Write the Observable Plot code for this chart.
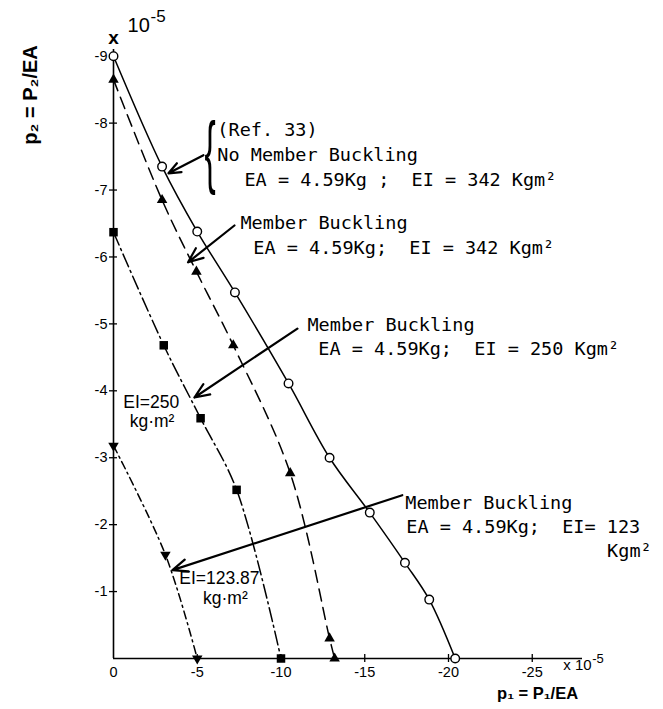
<!DOCTYPE html>
<html><head><meta charset="utf-8">
<script src="https://cdn.jsdelivr.net/npm/d3@7"></script>
<script src="https://cdn.jsdelivr.net/npm/@observablehq/plot@0.6"></script>
<style>body{margin:0;background:#fff}</style>
</head><body><div id="chart"></div>
<script>
// Data (values in units of 1e-5)
const noBucklingP1 = [0, -2.9, -5.0, -7.25, -10.45, -12.9, -15.3, -17.4, -18.85, -20.4];
const noBucklingP2 = [-9.0, -7.35, -6.38, -5.47, -4.11, -3.0, -2.18, -1.43, -0.88, 0];
const ei342P1 = [0, -2.9, -4.95, -7.15, -10.55, -12.9, -13.2];
const ei342P2 = [-8.65, -6.85, -5.78, -4.68, -2.77, -0.3, 0];
const ei250P1 = [0, -3.0, -5.2, -7.35, -10];
const ei250P2 = [-6.37, -4.68, -3.59, -2.52, 0];
const ei123P1 = [0, -3.1, -5.0];
const ei123P2 = [-3.18, -1.55, 0];
const xTicks = [0, -5, -10, -15, -20, -25];
const yTicks = [-9, -8, -7, -6, -5, -4, -3, -2, -1];

// Annotations (data coordinates)
const legendTexts = [
  {x: -6.2, y: -7.89, text: "(Ref. 33)"},
  {x: -6.2, y: -7.52, text: "No Member Buckling"},
  {x: -7.82, y: -7.15, text: "EA = 4.59Kg ;  EI = 342 Kgm²"},
  {x: -7.58, y: -6.50, text: "Member Buckling"},
  {x: -8.35, y: -6.14, text: "EA = 4.59Kg;  EI = 342 Kgm²"},
  {x: -11.58, y: -4.98, text: "Member Buckling"},
  {x: -12.23, y: -4.62, text: "EA = 4.59Kg;  EI = 250 Kgm²"},
  {x: -17.42, y: -2.32, text: "Member Buckling"},
  {x: -17.48, y: -1.96, text: "EA = 4.59Kg;  EI= 123"},
  {x: -29.47, y: -1.61, text: "Kgm²"}
];
const curveTexts = [
  {x: -2.25, y: -3.83, text: "EI=250"},
  {x: -2.3, y: -3.55, text: "kg·m²"},
  {x: -6.32, y: -1.2, text: "EI=123.87"},
  {x: -6.68, y: -0.9, text: "kg·m²"}
];
const arrows = [
  {x1: -5.37, y1: -7.52, x2: -3.28, y2: -7.25},
  {x1: -7.22, y1: -6.47, x2: -4.45, y2: -5.92},
  {x1: -10.98, y1: -4.93, x2: -4.83, y2: -3.90},
  {x1: -17.24, y1: -2.44, x2: -3.52, y2: -1.32}
];

const zipPts = (xs, ys) => xs.map((x, i) => ({x, y: ys[i]}));
const noBuckling = zipPts(noBucklingP1, noBucklingP2);
const ei342 = zipPts(ei342P1, ei342P2);
const ei250 = zipPts(ei250P1, ei250P2);
const ei123 = zipPts(ei123P1, ei123P2);

const fmt = d => d === 0 ? "0" : "-" + Math.abs(d);
const triangleDown = {
  draw(context, size) {
    const y = -Math.sqrt(size / (Math.sqrt(3) * 3));
    context.moveTo(0, -y * 2);
    context.lineTo(-Math.sqrt(3) * y, y);
    context.lineTo(Math.sqrt(3) * y, y);
    context.closePath();
  }
};
const sans = "Liberation Sans, Arial, sans-serif";
const mono = "DejaVu Sans Mono, monospace";

const plot = Plot.plot({
  width: 663, height: 709,
  marginLeft: 113, marginRight: 81, marginTop: 49, marginBottom: 51,
  x: {domain: [0, -28], axis: null},
  y: {domain: [0, -9.1], axis: null},
  style: {fontFamily: sans, background: "white", color: "black"},
  marks: [
    Plot.ruleX([0], {y1: 0, y2: -9.1, strokeWidth: 1.6}),
    Plot.ruleY([0], {x1: 0, x2: -28, strokeWidth: 1.6}),
    Plot.ruleY(yTicks, {y: d => d, x1: 0.24, x2: -0.24, strokeWidth: 1.3}),
    Plot.ruleX(xTicks.slice(1), {x: d => d, y1: 0.06, y2: -0.06, strokeWidth: 1.3}),
    Plot.text(yTicks, {x: 0, y: d => d, text: fmt, textAnchor: "end", dx: -6, fontSize: 14.5, fontFamily: sans}),
    Plot.text(xTicks, {x: d => d, y: 0, text: fmt, dy: 14, fontSize: 14.5, fontFamily: sans}),
    Plot.line(noBuckling, {x: "x", y: "y", curve: "catmull-rom", strokeWidth: 1.5}),
    Plot.line(ei342, {x: "x", y: "y", curve: "catmull-rom", strokeWidth: 1.5, strokeDasharray: "12,7"}),
    Plot.line(ei250, {x: "x", y: "y", curve: "catmull-rom", strokeWidth: 1.5, strokeDasharray: "14,4,2,4"}),
    Plot.line(ei123, {x: "x", y: "y", curve: "catmull-rom", strokeWidth: 1.5, strokeDasharray: "8,4,2,4"}),
    Plot.dot(noBuckling, {x: "x", y: "y", r: 4.3, fill: "white", stroke: "black", strokeWidth: 1.4}),
    Plot.dot(ei342, {x: "x", y: "y", r: 3.9, symbol: "triangle", fill: "black"}),
    Plot.dot(ei250, {x: "x", y: "y", r: 4.8, symbol: "square", fill: "black"}),
    Plot.dot(ei123, {x: "x", y: "y", r: 3.9, symbol: triangleDown, fill: "black"}),
    Plot.arrow(arrows, {x1: "x1", y1: "y1", x2: "x2", y2: "y2", strokeWidth: 2.2, headLength: 11, headAngle: 45}),
    Plot.text(legendTexts, {x: "x", y: "y", text: "text", textAnchor: "start", fontFamily: mono, fontSize: 18.5}),
    Plot.text(curveTexts, {x: "x", y: "y", text: "text", textAnchor: "middle", fontFamily: sans, fontSize: 17.5}),
    Plot.text(["x"], {x: 0, y: -9.28, text: d => d, fontSize: 19, fontFamily: sans, fontWeight: "bold"}),
    Plot.text(["10"], {x: -0.84, y: -9.46, text: d => d, textAnchor: "start", fontSize: 20, fontFamily: sans}),
    Plot.text(["-5"], {x: -0.84, y: -9.46, text: d => d, textAnchor: "start", dx: 23, dy: -9, fontSize: 17, fontFamily: sans}),
    Plot.text(["x 10"], {x: -26.85, y: 0.1, text: d => d, textAnchor: "start", fontSize: 15, fontFamily: sans}),
    Plot.text(["-5"], {x: -26.85, y: 0.1, text: d => d, textAnchor: "start", dx: 29, dy: -6, fontSize: 13, fontFamily: sans}),
    Plot.text(["p₁ = P₁/EA"], {x: -22.9, y: 0.52, text: d => d, textAnchor: "start", fontSize: 16.5, fontFamily: sans, fontWeight: "bold"}),
    Plot.text(["p₂ = P₂/EA"], {x: 4.95, y: -8.42, text: d => d, rotate: -90, fontSize: 20, fontFamily: sans, fontWeight: "bold"})
  ]
});

const sx = plot.scale("x"), sy = plot.scale("y");
d3.select(plot).append("text")
  .attr("transform", `translate(${sx.apply(-5.8)},${sy.apply(-7.59)}) scale(0.42,1)`)
  .attr("text-anchor", "middle")
  .attr("dominant-baseline", "central")
  .attr("font-size", 80)
  .attr("font-family", sans)
  .text("{");

document.getElementById("chart").appendChild(plot);
</script>
</body></html>
